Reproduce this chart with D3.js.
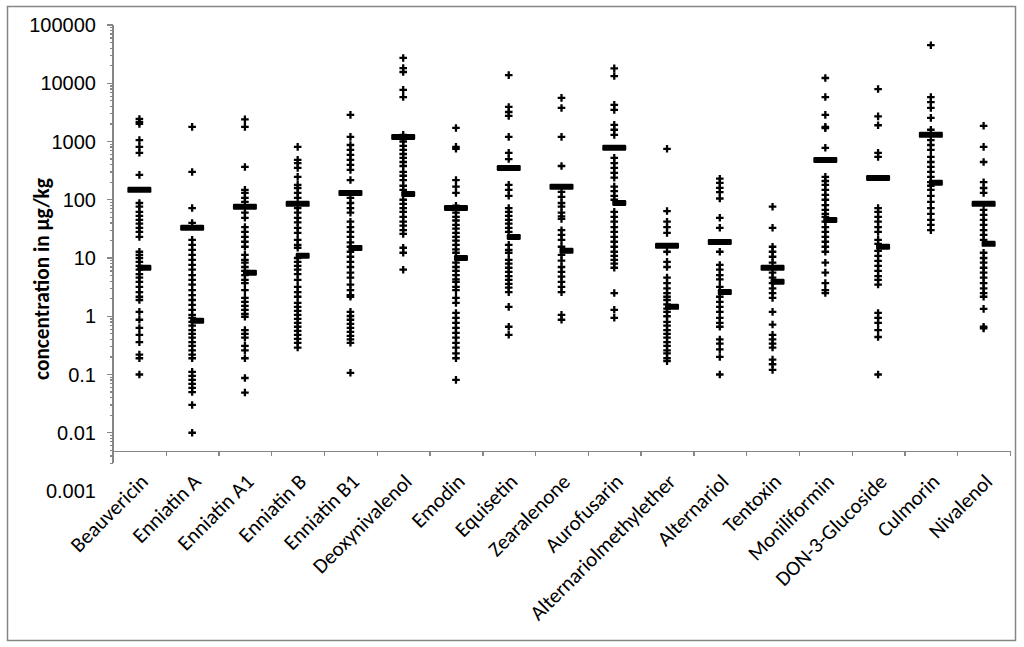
<!DOCTYPE html>
<meta charset="utf-8">
<style>
body {
  margin: 0;
  background: #fff;
}
.num {
  font-family: "Liberation Sans", Arial, sans-serif;
  font-size: 20px;
  fill: #000;
}
.cat {
  font-family: Carlito, Lato, "Open Sans", sans-serif;
  font-size: 21px;
  fill: #000;
}
.ytitle {
  font-family: Carlito, Lato, "Open Sans", sans-serif;
  font-size: 17px;
  font-weight: bold;
  fill: #000;
}
.axis path, .axis line {
  stroke: #868686;
  stroke-width: 1.3;
  shape-rendering: crispEdges;
}
</style>
<body>
<script src="https://cdn.jsdelivr.net/npm/d3@7"></script>
<script>

var width = 1024,
    height = 647;

var categories = ["Beauvericin", "Enniatin A", "Enniatin A1", "Enniatin B", "Enniatin B1",
  "Deoxynivalenol", "Emodin", "Equisetin", "Zearalenone", "Aurofusarin",
  "Alternariolmethylether", "Alternariol", "Tentoxin", "Moniliformin",
  "DON-3-Glucoside", "Culmorin", "Nivalenol"];

// mean and median per compound (µg/kg)
var means   = [148, 33, 76, 85, 131, 1200, 72, 352, 168, 780, 16.2, 18.9, 6.8, 483, 237, 1300, 85];
var medians = [6.8, 0.84, 5.6, 10.9, 14.9, 126, 10, 23, 13.3, 88, 1.45, 2.6, 3.9, 45, 15.6, 196, 17.5];

// single positive samples (µg/kg)
var beauvericin = [2440, 2170, 2000, 1060, 810, 640, 267, 88, 76, 62, 53, 45, 39, 33, 28, 23,
  12.8, 11.3, 10, 8.6, 7.3, 6.3, 5.3, 4.6, 3.9, 3.2, 2.6, 2.16, 1.9, 1.19, 0.87, 0.63, 0.48,
  0.36, 0.22, 0.19, 0.10];
var enniatinA = [1780, 300, 72, 40, 20.5, 16.8, 13.8, 11.3, 9.3, 7.6, 6.3, 5.1, 4.2, 3.5, 2.8,
  2.3, 1.9, 1.57, 1.29, 1.06, 0.94, 0.80, 0.69, 0.58, 0.50, 0.43, 0.36, 0.31, 0.26, 0.22, 0.19,
  0.111, 0.095, 0.081, 0.069, 0.059, 0.050, 0.030, 0.010];
var enniatinA1 = [2400, 1780, 366, 148, 131, 108, 92, 60, 49, 34, 28, 23, 19, 15.6, 11.3, 9.3,
  8.3, 7.0, 6.0, 5.1, 4.2, 3.7, 2.8, 2.07, 1.77, 1.51, 1.29, 1.10, 0.98, 0.58, 0.50, 0.43,
  0.31, 0.26, 0.19, 0.087, 0.049];
var enniatinB = [807, 483, 427, 352, 247, 180, 159, 131, 108, 72, 60, 49, 41, 33, 27, 20.5,
  16.8, 15, 10, 8.6, 7.3, 6.3, 5.3, 4.2, 3.2, 2.6, 2.16, 1.7, 1.45, 1.24, 1.06, 0.90, 0.77,
  0.66, 0.56, 0.48, 0.41, 0.35, 0.29];
var enniatinB1 = [2860, 1200, 870, 717, 590, 483, 398, 326, 218, 108, 88, 72, 60, 42, 34, 28,
  23, 18.5, 15.6, 12.8, 10.5, 8.6, 7.0, 5.6, 4.6, 3.5, 2.8, 2.3, 2.16, 1.19, 1.01, 0.87, 0.74,
  0.63, 0.54, 0.46, 0.40, 0.35, 0.107];
var deoxynivalenol = [27200, 18200, 15600, 7700, 5800, 1300, 1000, 840, 717, 610, 525, 445,
  380, 300, 258, 218, 174, 148, 100, 85, 72, 62, 51, 42, 36, 30, 26, 15, 12.3, 6.3];
var emodin = [1710, 807, 750, 218, 168, 131, 79, 60, 51, 44, 37, 32, 27, 23, 19.8, 16.8, 14.1,
  12.3, 8.3, 7.0, 6.0, 5.1, 4.3, 3.9, 3.2, 2.8, 2.07, 1.7, 1.14, 0.94, 0.77, 0.63, 0.52, 0.43,
  0.35, 0.29, 0.23, 0.19, 0.081];
var equisetin = [13800, 3920, 3210, 2750, 1200, 640, 500, 180, 148, 117, 72, 62, 53, 45, 39,
  33, 28, 16.8, 13.8, 12.3, 9.3, 8.0, 6.8, 5.8, 4.9, 4.2, 3.6, 3.1, 2.6, 1.45, 0.66, 0.48];
var zearalenone = [5600, 3770, 1200, 380, 136, 112, 88, 76, 60, 52, 47, 30, 25, 20.5, 15.6,
  11.3, 9.0, 7.0, 5.8, 4.8, 3.9, 3.2, 2.6, 1.06, 0.87];
var aurofusarin = [18000, 13300, 4250, 3490, 1930, 1590, 1300, 525, 427, 352, 290, 240, 168,
  141, 117, 100, 62, 51, 42, 34, 28, 23, 19, 15.6, 12.8, 10.9, 9.3, 8.0, 6.8, 2.5, 1.29, 0.94];
var alternariolmethylether = [750, 64, 42, 34, 27, 12.8, 8.6, 7.0, 4.6, 3.7, 3.0, 2.5, 2.16,
  1.9, 1.6, 1.35, 1.19, 1.0, 0.80, 0.69, 0.58, 0.50, 0.43, 0.36, 0.31, 0.26, 0.23, 0.19, 0.17];
var alternariol = [230, 195, 160, 135, 105, 49, 33, 12.8, 7.6, 6.3, 5.1, 4.3, 3.2, 2.16, 1.77,
  1.45, 1.19, 0.94, 0.77, 0.66, 0.40, 0.34, 0.27, 0.20, 0.10];
var tentoxin = [76, 33, 15.6, 12.8, 10.5, 8.3, 5.6, 4.6, 3.7, 3.0, 2.5, 2.07, 1.19, 0.72, 0.48,
  0.40, 0.34, 0.29, 0.18, 0.15, 0.12];
var moniliformin = [12300, 5800, 2860, 1780, 1700, 780, 247, 210, 180, 148, 121, 100, 81, 67,
  57, 51, 42, 34, 28, 23, 19, 15.6, 12.8, 8.3, 5.6, 3.7, 2.8, 2.5];
var don3glucoside = [7950, 2700, 1900, 640, 545, 72, 62, 51, 42, 34, 28, 20.5, 17.5, 13.3,
  10.9, 8.9, 7.3, 6.0, 4.9, 4.2, 3.5, 1.14, 0.94, 0.77, 0.58, 0.44, 0.10];
var culmorin = [45000, 5800, 4750, 3770, 2540, 1590, 1060, 870, 717, 545, 445, 366, 300, 247,
  200, 174, 148, 117, 92, 72, 57, 45, 37, 30];
var nivalenol = [1860, 807, 445, 200, 159, 131, 67, 55, 45, 37, 30, 25, 20.5, 12.3, 10, 8.3,
  6.8, 5.6, 4.6, 3.7, 3.0, 2.5, 2.16, 1.34, 0.66, 0.62];

var samples = [beauvericin, enniatinA, enniatinA1, enniatinB, enniatinB1, deoxynivalenol,
  emodin, equisetin, zearalenone, aurofusarin, alternariolmethylether, alternariol, tentoxin,
  moniliformin, don3glucoside, culmorin, nivalenol];

var yTicks = [0.001, 0.01, 0.1, 1, 10, 100, 1000, 10000, 100000];

var svg = d3.select("body").append("svg")
    .attr("width", width)
    .attr("height", height);

// chart frame
svg.append("rect")
    .attr("x", 7.5)
    .attr("y", 6.5)
    .attr("width", 1008)
    .attr("height", 634)
    .style("fill", "none")
    .style("stroke", "#868686")
    .style("stroke-width", 1.5);

var x = d3.scaleBand()
    .domain(categories)
    .range([113, 1010]);

var y = d3.scaleLog()
    .domain([0.001, 100000])
    .range([491, 25]);

var xCross = 0.0048,   // where the category axis sits
    yEnd = 0.003;      // where the value axis line stops

// value axis
var yAxis = svg.append("g").attr("class", "axis");

yAxis.append("line")
    .attr("x1", 113).attr("x2", 113)
    .attr("y1", y(100000)).attr("y2", y(yEnd));

var minor = [];
yTicks.slice(0, -1).forEach(function(t) {
  d3.range(2, 10).forEach(function(k) {
    if (t * k >= yEnd - 1e-9) minor.push(t * k);
  });
});

yAxis.selectAll(".minor")
    .data(minor)
  .enter().append("line")
    .attr("x1", 110).attr("x2", 113)
    .attr("y1", function(d) { return y(d); })
    .attr("y2", function(d) { return y(d); });

yAxis.selectAll(".major")
    .data(yTicks.filter(function(d) { return d >= 0.01; }))
  .enter().append("line")
    .attr("x1", 107).attr("x2", 113)
    .attr("y1", function(d) { return y(d); })
    .attr("y2", function(d) { return y(d); });

svg.selectAll(".ylabel")
    .data(yTicks)
  .enter().append("text")
    .attr("class", "num")
    .attr("x", 96)
    .attr("y", function(d) { return y(d); })
    .attr("dy", "0.36em")
    .style("text-anchor", "end")
    .text(function(d) { return d >= 1 ? d3.format("d")(d) : d3.format("~g")(d); });

var title = svg.append("text")
    .attr("class", "ytitle")
    .attr("transform", "translate(49," + 279 + ")rotate(-90)")
    .style("text-anchor", "middle")
    .text("concentration in µg/kg");

// fit the title to the length it has in the original
var tl = title.node().getComputedTextLength();
title.style("font-size", (17 * 202 / tl) + "px");

// category axis
var xi = d3.scaleLinear().domain([0, categories.length]).range([113, 1010]);

svg.append("g")
    .attr("class", "axis")
    .attr("transform", "translate(0," + y(xCross) + ")")
    .call(d3.axisBottom(xi).tickValues(d3.range(1, categories.length + 1))
      .tickSize(5).tickSizeOuter(0).tickFormat(""));

svg.selectAll(".cat")
    .data(categories)
  .enter().append("text")
    .attr("class", "cat")
    .attr("transform", function(d) {
      return "translate(" + (x(d) + x.bandwidth() / 2 + 10) + ",483)rotate(-45)";
    })
    .style("text-anchor", "end")
    .text(function(d) { return d; });

// points
var points = [];
samples.forEach(function(vals, i) {
  vals.forEach(function(v) { points.push({cat: categories[i], value: v}); });
});

svg.selectAll(".point")
    .data(points)
  .enter().append("path")
    .attr("class", "point")
    .attr("d", "M-3.8,0H3.8M0,-3.8V3.8")
    .attr("transform", function(d) {
      return "translate(" + (x(d.cat) + x.bandwidth() / 2) + "," + y(d.value) + ")";
    })
    .style("stroke", "#000")
    .style("stroke-width", 2.3)
    .style("fill", "none");

// mean marks
svg.selectAll(".mean")
    .data(means)
  .enter().append("rect")
    .attr("class", "mean")
    .attr("x", function(d, i) { return x(categories[i]) + x.bandwidth() / 2 - 12; })
    .attr("y", function(d) { return y(d) - 3; })
    .attr("width", 24)
    .attr("height", 6)
    .attr("rx", 1.2)
    .style("fill", "#000");

// median marks
svg.selectAll(".median")
    .data(medians)
  .enter().append("rect")
    .attr("class", "median")
    .attr("x", function(d, i) { return x(categories[i]) + x.bandwidth() / 2 - 2; })
    .attr("y", function(d) { return y(d) - 3; })
    .attr("width", 14)
    .attr("height", 6)
    .attr("rx", 1.2)
    .style("fill", "#000");

</script>
